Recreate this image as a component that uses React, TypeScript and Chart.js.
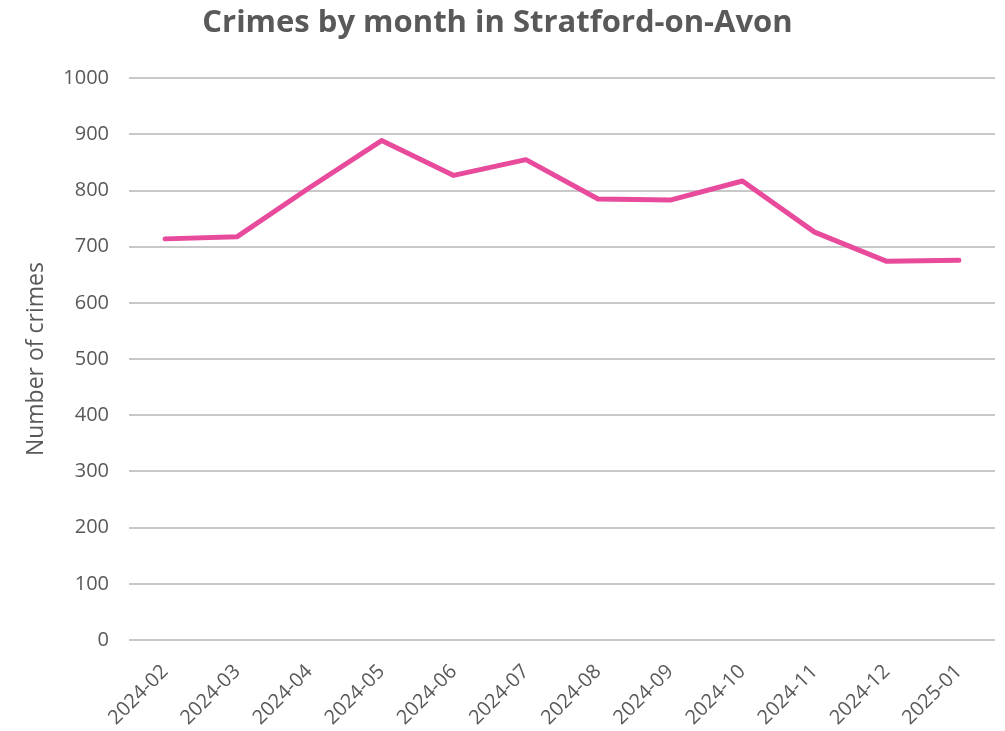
import React, { useEffect, useRef } from "react";
import { Chart, registerables } from "chart.js";

Chart.register(...registerables);

const months = [
  "2024-02", "2024-03", "2024-04", "2024-05", "2024-06", "2024-07",
  "2024-08", "2024-09", "2024-10", "2024-11", "2024-12", "2025-01",
];
const crimes = [714, 718, 805, 889, 827, 855, 785, 783, 817, 726, 674, 676];
const yTicks = [0, 100, 200, 300, 400, 500, 600, 700, 800, 900, 1000];

const FONT = "'Open Sans', 'Liberation Sans', sans-serif";
const GREY = "#595959";

export default function App() {
  const ref = useRef<HTMLCanvasElement>(null);
  useEffect(() => {
    if (!ref.current) return;
    const chart = new Chart(ref.current, {
      type: "line",
      data: {
        labels: months,
        datasets: [
          {
            label: "Crimes",
            data: crimes,
            borderColor: "#E84A9C",
            backgroundColor: "#E84A9C",
            borderWidth: 5,
            pointRadius: 0,
            tension: 0,
            borderJoinStyle: "round",
            borderCapStyle: "round",
          },
        ],
      },
      options: {
        animation: false,
        responsive: false,
        maintainAspectRatio: false,
        layout: { padding: { left: 0, right: 10, top: 0, bottom: 0 } },
        plugins: {
          legend: { display: false },
          tooltip: { enabled: false },
          title: {
            display: true,
            text: "Crimes by month in Stratford-on-Avon",
            color: GREY,
            font: { family: FONT, size: 31, weight: "bold" },
            padding: { top: 5, bottom: 36 },
          },
        },
        scales: {
          x: {
            offset: true,
            grid: { display: false },
            border: { display: false },
            afterFit: (axis: any) => {
              axis.paddingLeft = 0;
              axis.height = 91;
            },
            ticks: {
              color: GREY,
              font: { family: FONT, size: 20 },
              maxRotation: 45,
              minRotation: 45,
              padding: 12,
            },
          },
          y: {
            min: 0,
            max: 1000,
            afterBuildTicks: (axis: any) => {
              axis.ticks = yTicks.map((v) => ({ value: v }));
            },
            afterFit: (axis: any) => {
              axis.width = 129;
            },
            grid: { color: "#c8c8c8", lineWidth: 2, drawTicks: false },
            border: { display: false },
            ticks: {
              color: GREY,
              font: { family: FONT, size: 20 },
              padding: 20,
              callback: (v: any) => String(v),
            },
            title: {
              display: true,
              text: "Number of crimes",
              color: GREY,
              font: { family: FONT, size: 23 },
              padding: { top: 23, bottom: 12 },
            },
          },
        },
      },
    });
    return () => chart.destroy();
  }, []);
  return (
    <div style={{ position: "fixed", left: 0, top: 0, width: 1005, height: 731, background: "#fff" }}>
      <canvas ref={ref} width={1005} height={731} style={{ width: 1005, height: 731 }} />
    </div>
  );
}
